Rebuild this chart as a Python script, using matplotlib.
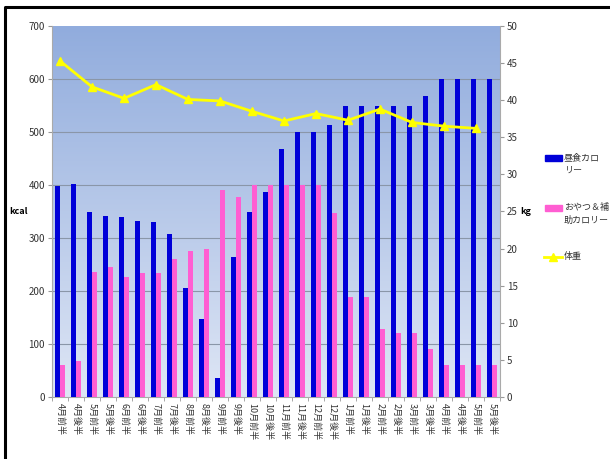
import matplotlib
matplotlib.use("Agg")
import matplotlib.pyplot as plt
import numpy as np
from matplotlib.patches import Rectangle
from matplotlib.lines import Line2D

plt.rcParams['font.family'] = ['Noto Sans CJK JP', 'DejaVu Sans']

categories = ['4月前半', '4月後半', '5月前半', '5月後半', '6月前半', '6月後半',
              '7月前半', '7月後半', '8月前半', '8月後半', '9月前半', '9月後半',
              '10月前半', '10月後半', '11月前半', '11月後半', '12月前半', '12月後半',
              '1月前半', '1月後半', '2月前半', '2月後半', '3月前半', '3月後半',
              '4月前半', '4月後半', '5月前半', '5月後半']
lunch_kcal = [398, 401, 350, 341, 339, 332, 330, 308, 205, 148, 35, 265, 350, 386,
              467, 500, 500, 513, 550, 550, 550, 550, 550, 567, 600, 600, 600, 600]
snack_kcal = [60, 68, 236, 245, 227, 234, 234, 260, 276, 279, 390, 377, 400, 400,
              400, 400, 400, 347, 188, 188, 128, 121, 121, 91, 60, 60, 60, 60]
weight_kg = [45.3, None, 41.8, None, 40.25, None, 42.1, None, 40.1, None, 39.9, None,
             38.5, None, 37.2, None, 38.2, None, 37.3, None, 38.8, None, 37.0, None,
             36.5, None, 36.2, None]
series_names = ['昼食カロ\nリー', 'おやつ＆補\n助カロリー', '体重']
left_ticks = [0, 100, 200, 300, 400, 500, 600, 700]
right_ticks = [0, 5, 10, 15, 20, 25, 30, 35, 40, 45, 50]

W, H = 610, 459
fig = plt.figure(figsize=(W / 100, H / 100), dpi=100)
fig.patch.set_facecolor('white')

L, R, T, B = 52, 500, 26, 397
ax = fig.add_axes([L / W, 1 - B / H, (R - L) / W, (B - T) / H])

# gradient background
grad = np.linspace(0, 1, 256).reshape(-1, 1)
top = np.array([145, 172, 221]) / 255
bot = np.array([222, 230, 245]) / 255
img = top[None, None, :] * (1 - grad[:, :, None]) + bot[None, None, :] * grad[:, :, None]
ax.imshow(img, extent=[0, 1, 0, 1], transform=ax.transAxes, aspect='auto', zorder=0)

x = np.arange(len(categories))
w = 0.33
ax.bar(x - w / 2, lunch_kcal, width=w, color='#0000D8', zorder=3)
ax.bar(x + w / 2, snack_kcal, width=w, color='#FF5ED2', zorder=3)

ax.set_xlim(-0.5, len(categories) - 0.5)
ax.set_ylim(0, 700)
ax.set_yticks(left_ticks)
for t in left_ticks[1:-1]:
    ax.axhline(t, color='#8a96a8', lw=0.8, zorder=1)

ax.set_xticks(x)
ax.set_xticklabels(categories, rotation=-90, fontsize=6.5, color='#333333')
ax.set_xticks(np.arange(-0.5, len(categories), 1), minor=True)
ax.tick_params(axis='x', which='major', length=0, pad=4)
ax.tick_params(axis='x', which='minor', length=3, color='#999999')
ax.tick_params(axis='y', length=3, color='#999999', labelsize=7, labelcolor='#333333', pad=2)

for s in ['top', 'right']:
    ax.spines[s].set_visible(False)
for s in ['left', 'bottom']:
    ax.spines[s].set_color('#aaaaaa')
    ax.spines[s].set_linewidth(0.8)

ax2 = ax.twinx()
wx = [i for i, v in enumerate(weight_kg) if v is not None]
wy = [v for v in weight_kg if v is not None]
ax2.plot(wx, wy, color='#FFFF00', lw=2, marker='^', markersize=6,
         markerfacecolor='#FFFF00', markeredgecolor='#FFFF00', zorder=5)
ax2.set_ylim(0, 50)
ax2.set_yticks(right_ticks)
ax2.tick_params(axis='y', length=3, color='#999999', labelsize=7, labelcolor='#333333', pad=2)
for s in ['top', 'left', 'bottom']:
    ax2.spines[s].set_visible(False)
ax2.spines['right'].set_color('#aaaaaa')
ax2.spines['right'].set_linewidth(0.8)

fig.text(18 / W, 1 - 212 / H, 'kcal', fontsize=6.5, fontweight='bold', ha='center', va='center')
fig.text(526 / W, 1 - 212 / H, 'kg', fontsize=6.5, fontweight='bold', ha='center', va='center')

# legend
def fx(px):
    return px / W

def fy(py):
    return 1 - py / H

fig.patches.append(Rectangle((fx(545), fy(161)), 17 / W, 6 / H, transform=fig.transFigure,
                             color='#0000D8'))
fig.text(fx(564), fy(164), series_names[0], fontsize=6.5, ha='left', va='center',
         color='#333333', linespacing=1.5)
fig.patches.append(Rectangle((fx(545), fy(211)), 17 / W, 6 / H, transform=fig.transFigure,
                             color='#FF5ED2'))
fig.text(fx(564), fy(214), series_names[1], fontsize=6.5, ha='left', va='center',
         color='#333333', linespacing=1.5)
fig.lines.append(Line2D([fx(544), fx(562)], [fy(257), fy(257)], transform=fig.transFigure,
                        color='#FFFF00', lw=2))
fig.lines.append(Line2D([fx(553)], [fy(257)], transform=fig.transFigure,
                        color='#FFFF00', marker='^', markersize=6, linestyle='none'))
fig.text(fx(564), fy(256), series_names[2], fontsize=6.5, ha='left', va='center', color='#333333')

# outer frame (cut off at right and bottom)
fig.lines.append(Line2D([fx(4.5), fx(4.5), fx(620)], [fy(470), fy(7), fy(7)],
                        transform=fig.transFigure, color='black', lw=2.2))

fig.savefig('out.png', dpi=100)
